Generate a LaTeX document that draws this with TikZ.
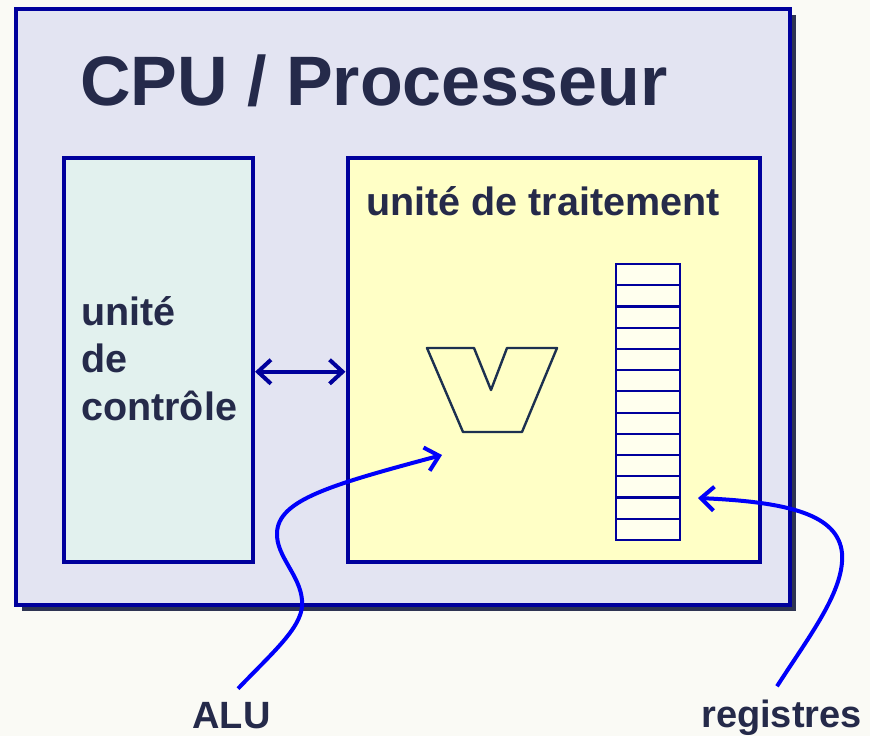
\documentclass[tikz,border=0pt]{standalone}
\usepackage{fontspec}
\setmainfont{Liberation Sans}
\usetikzlibrary{positioning, arrows.meta, shadows}

\definecolor{paper}{HTML}{FAFAF5}
\definecolor{navy}{HTML}{00009C}
\definecolor{ink}{HTML}{252A4A}
\definecolor{cpufill}{HTML}{E3E4F2}
\definecolor{ctrlfill}{HTML}{E2F1EE}
\definecolor{procfill}{HTML}{FFFFC6}
\definecolor{regfill}{HTML}{FFFFEE}
\definecolor{aluline}{HTML}{1C3050}
\definecolor{pointblue}{HTML}{0000FA}
\definecolor{shade}{HTML}{2E3452}

\begin{document}
\begin{tikzpicture}[
  x=1pt, y=-1pt,
  title/.style={font=\fontsize{70}{80}\selectfont\bfseries, text=ink, inner sep=0pt},
  lbl/.style={font=\fontsize{38}{47.5}\selectfont\bfseries, text=ink, inner sep=0pt},
  unitlbl/.style={lbl, font=\fontsize{39.5}{47.5}\selectfont\bfseries},
  unit/.style={draw=navy, line width=4pt, inner sep=0pt},
  cell/.style={draw=navy, line width=2.2pt, fill=regfill, inner sep=0pt,
               minimum width=63.4pt, minimum height=21.23pt},
  link/.style={draw=navy, line width=4pt, line cap=round,
               {Straight Barb[length=13pt, width=24pt]}-{Straight Barb[length=13pt, width=24pt]}},
  pointer/.style={draw=pointblue, line width=4pt,
                  -{Straight Barb[length=13pt, width=24pt]}},
]
\useasboundingbox[fill=paper] (0,0) rectangle (870,736);

% ===== outer box: the processor =====
\node[unit, fill=cpufill, minimum width=774pt, minimum height=595.5pt,
      drop shadow={shadow xshift=6pt, shadow yshift=-6pt, fill=shade, opacity=1}]
  (cpu) at (403,306.75) {};
\node[title, anchor=base west] (title) at (80,105) {CPU / Processeur};

% ===== control unit and processing unit =====
\node[unit, fill=ctrlfill, minimum width=189.5pt, minimum height=404.5pt] (ctrl) at (158.25,359.75) {};
\node[unit, fill=procfill, minimum width=412.5pt, minimum height=404.5pt, right=90.5pt of ctrl] (proc) {};

\node[unitlbl, align=left, anchor=base west] (ctrltxt) at (81,420) {unité\\de\\contrôle};
\node[unitlbl, anchor=base west] (proctxt) at (366,215) {unité de traitement};

\draw[link] ([yshift=-12pt]ctrl.east) -- ([yshift=-12pt]proc.west);

% ALU symbol
\draw[aluline, line width=2.4pt, line join=round]
  (427,348) -- (474,348) -- (491,390) -- (507,348) -- (557,348) -- (522,432) -- (463,432) -- cycle;
\coordinate (alu) at (442,455);

% register file
\foreach \i in {0,...,12}
  \node[cell] (reg\i) at (648,{274.6+21.23*\i}) {};
\coordinate (regs) at (698,498);

% ===== labels underneath =====
\node[lbl, anchor=base] (alulbl) at (231.5,728) {ALU};
\node[lbl, anchor=base] (reglbl) at (781.5,727) {registres};

\draw[pointer] ([shift={(6.5,-13)}]alulbl.north)
  .. controls (275,650) and (305,625) .. (302,600)
  .. controls (300,575) and (276,556) .. (277,533)
  .. controls (278,500) and (330,485) .. (alu);
\draw[pointer] ([shift={(-4.5,-13)}]reglbl.north)
  .. controls (810,635) and (845,590) .. (842,553)
  .. controls (838,515) and (790,502) .. (regs);

\end{tikzpicture}
\end{document}
